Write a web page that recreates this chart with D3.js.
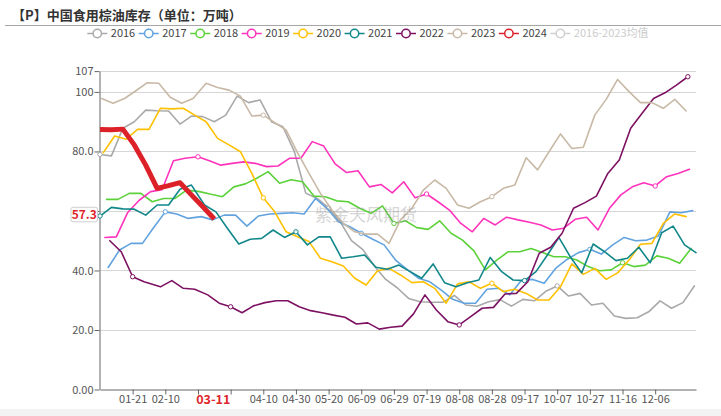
<!DOCTYPE html>
<html>
<head>
<meta charset="utf-8">
<script src="https://cdn.jsdelivr.net/npm/d3@7"></script>
<style>
  html, body { margin: 0; padding: 0; background: #fff; }
  svg { display: block; font-family: "Noto Sans CJK SC", "Noto Sans", sans-serif; }
</style>
</head>
<body>
<svg id="chart" width="721" height="416"></svg>
<script>
// ---------------- data ----------------
const title = "【P】中国食用棕油库存（单位：万吨）";
const watermark = "紫金天风期货";
const years = ["2016", "2017", "2018", "2019", "2020", "2021", "2022", "2023", "2024"];
const avgName = "2016-2023均值";
const colors = ["#a9a9a9", "#62a3df", "#5cd13a", "#ff33bb", "#ffc000", "#11878a", "#7d1162", "#c8b9a6", "#dc2128"];
const avgColor = "#cccccc";
// first observation date of each year (weekly data)
const startDates = ["2016-01-01", "2017-01-06", "2018-01-05", "2019-01-04", "2020-01-03",
                    "2021-01-01", "2022-01-07", "2023-01-02", "2024-01-01"];
// 2022 switched from Friday to Monday reporting
const restarts = { "2022": { index: 4, date: "2022-02-07" } };

const v2016 = [79.0, 78.5, 87.8, 90.0, 93.9, 93.7, 93.6, 89.2, 91.9, 91.7,
               90.0, 92.2, 98.6, 96.4, 97.3, 90.0, 88.3, 80.0, 66.0, 64.2,
               61.0, 56.5, 50.0, 47.0, 41.5, 37.0, 34.2, 30.6, 29.5, 29.3,
               29.3, 31.6, 28.4, 28.0, 29.5, 30.2, 28.0, 30.3, 29.8, 33.0,
               34.8, 31.4, 32.3, 28.4, 29.0, 24.7, 23.9, 24.1, 26.1, 29.8,
               27.3, 29.2, 34.8];
const v2017 = [41.0, 46.9, 49.1, 49.1, 54.5, 59.7, 59.0, 57.5, 58.1, 57.0,
               58.6, 58.6, 54.9, 58.3, 59.0, 59.2, 59.4, 59.0, 64.2, 60.9,
               56.4, 54.7, 52.5, 50.5, 48.6, 43.5, 40.4, 37.4, 36.2, 33.4,
               30.3, 29.0, 29.0, 33.7, 34.0, 31.8, 36.6, 37.0, 35.7, 40.7,
               43.7, 46.0, 47.1, 45.5, 48.6, 51.1, 50.0, 50.2, 51.6, 59.7,
               59.4, 60.1];
const v2018 = [63.9, 63.9, 65.9, 65.9, 63.1, 64.2, 64.2, 67.0, 66.5, 65.6,
               64.8, 68.1, 69.1, 71.0, 73.2, 69.3, 70.5, 69.8, 65.0, 64.8,
               63.4, 63.1, 60.9, 59.2, 61.7, 55.8, 56.7, 54.4, 53.8, 56.7,
               52.5, 50.2, 46.6, 40.2, 43.5, 46.3, 46.3, 47.4, 46.0, 44.6,
               44.6, 43.5, 41.3, 39.9, 40.2, 42.6, 41.3, 41.8, 44.9, 44.1,
               42.4, 47.4];
const v2019 = [51.1, 51.3, 59.5, 63.6, 66.5, 67.1, 76.9, 77.7, 78.2, 76.9,
               75.4, 76.0, 76.5, 76.0, 74.9, 75.1, 77.7, 77.7, 83.3, 81.8,
               75.8, 72.9, 73.5, 68.1, 68.9, 66.1, 69.8, 64.4, 65.7, 63.1,
               60.3, 55.8, 53.0, 57.5, 55.3, 57.9, 57.0, 56.2, 55.3, 53.6,
               54.2, 57.2, 57.9, 53.6, 60.9, 65.4, 68.1, 69.5, 68.4, 71.5,
               72.6, 74.0];
const v2020 = [79.6, 85.2, 84.1, 87.4, 87.4, 94.5, 94.3, 94.5, 92.2, 90.0,
               84.4, 82.2, 79.9, 72.6, 64.4, 59.7, 53.0, 51.3, 49.7, 44.1,
               42.9, 41.5, 37.4, 35.1, 39.9, 40.7, 38.5, 35.9, 36.2, 34.0,
               29.0, 35.5, 36.2, 34.0, 35.7, 32.9, 33.7, 32.3, 30.1, 30.1,
               34.5, 42.2, 38.7, 40.7, 37.0, 39.2, 43.5, 48.8, 49.1, 55.8,
               59.0, 58.1];
const v2021 = [58.3, 61.2, 60.7, 60.6, 58.6, 62.0, 62.0, 67.3, 68.7, 62.0,
               59.7, 54.2, 48.9, 50.5, 50.8, 53.6, 51.1, 53.0, 48.6, 51.3,
               51.3, 44.1, 44.6, 45.2, 41.1, 40.4, 41.8, 39.6, 37.4, 42.2,
               35.9, 34.5, 35.9, 36.8, 44.4, 39.6, 36.8, 36.6, 39.6, 45.2,
               51.1, 44.6, 39.2, 48.9, 46.3, 43.3, 44.1, 47.8, 42.6, 52.7,
               54.9, 48.6, 46.0];
const v2022 = [50.0, 46.3, 37.9, 36.2, 34.5, 36.6, 34.0, 33.7, 31.8, 29.0,
               27.8, 25.8, 28.1, 29.2, 29.8, 29.8, 27.8, 26.5, 25.8, 25.0,
               24.3, 22.0, 22.4, 20.3, 20.9, 21.3, 25.4, 31.8, 26.7, 22.8,
               21.7, 24.5, 27.3, 27.6, 32.1, 32.3, 36.2, 45.8, 47.8, 52.5,
               60.9, 62.8, 65.0, 72.6, 77.1, 87.8, 92.8, 97.8, 99.7, 102.3,
               105.1];
const v2023 = [97.8, 96.2, 97.8, 100.4, 103.1, 102.9, 98.2, 96.2, 97.8, 102.9,
               101.5, 100.6, 98.6, 91.9, 92.2, 89.7, 87.2, 79.5, 72.6, 65.9,
               60.3, 55.8, 53.0, 52.2, 52.2, 49.1, 57.0, 60.9, 67.0, 70.4,
               67.6, 62.0, 60.9, 63.1, 64.8, 67.6, 68.7, 77.9, 73.8, 79.9,
               85.9, 81.0, 81.4, 92.2, 97.5, 104.2, 100.1, 96.4, 96.4, 94.5,
               97.5, 93.6];
const v2024 = [87.4, 87.3, 87.5, 82.2, 75.4, 67.6, 68.5, 69.5, 65.4, 61.4, 57.3];
const seriesValues = [v2016, v2017, v2018, v2019, v2020, v2021, v2022, v2023, v2024];

const yTicks = [0, 20, 40, 60, 80, 100, 107];
const latest = { date: "03-11", value: 57.3 };

// ---------------- chart ----------------
const W = 721, H = 416;
const svg = d3.select("#chart");
const parse = d3.timeParse("%Y-%m-%d");
const fmt = d3.timeFormat("%m-%d");

// bottom strip
svg.append("rect").attr("x", 0).attr("y", 409).attr("width", W).attr("height", H - 409).attr("fill", "#f3f3f3");

// category axis: every day of a leap year
const cats = d3.timeDays(new Date(2024, 0, 1), new Date(2025, 0, 1)).map(fmt);
const x = d3.scalePoint().domain(cats).range([100, 696]);
const y = d3.scaleLinear().domain([0, 107]).range([389.5, 71.1]);
const tickEvery = 20;

// title
svg.append("text").attr("x", 12).attr("y", 20).text(title)
  .attr("font-size", 13).attr("font-weight", "bold").attr("fill", "#333");
svg.append("line").attr("x1", 5).attr("x2", W).attr("y1", 25.5).attr("y2", 25.5)
  .attr("stroke", "#a6a6a6").attr("stroke-width", 1);

// legend
const legendItems = years.map((n, i) => ({ name: n, color: colors[i], off: false }))
  .concat([{ name: avgName, color: avgColor, off: true }]);
const lg = svg.append("g");
legendItems.forEach((d, i) => {
  const lx = 87.3 + i * 51.45, ly = 33.5;
  const c = d.off ? "#d0d0d0" : d.color;
  lg.append("line").attr("x1", lx).attr("x2", lx + 20).attr("y1", ly).attr("y2", ly)
    .attr("stroke", c).attr("stroke-width", 1.5);
  lg.append("circle").attr("cx", lx + 10).attr("cy", ly).attr("r", 4.2)
    .attr("fill", "#fff").attr("stroke", c).attr("stroke-width", 1.5);
  lg.append("text").attr("x", lx + 23.5).attr("y", ly).attr("dy", "0.35em")
    .attr("font-size", 11).attr("fill", d.off ? "#cccccc" : "#444").text(d.name);
});

// grid lines
svg.append("g").selectAll("line").data(yTicks.filter(d => d > 0)).join("line")
  .attr("x1", 100).attr("x2", 696)
  .attr("y1", d => Math.round(y(d)) + 0.5).attr("y2", d => Math.round(y(d)) + 0.5)
  .attr("stroke", "#d6d6d6").attr("stroke-width", 1);

// labels covered by the latest-value highlight boxes
const lastIdx = cats.indexOf(latest.date);
const coveredCat = c => Math.abs(cats.indexOf(c) - lastIdx) < 12;
const coveredVal = v => Math.abs(v - latest.value) < 4;

// x axis
const xTickVals = cats.filter((c, i) => i % tickEvery === 0 && i > 0 && i < 360);
const gx = svg.append("g").attr("transform", "translate(0,389.5)")
  .call(d3.axisBottom(x).tickValues(xTickVals).tickSize(5).tickSizeOuter(0)
    .tickFormat(c => coveredCat(c) ? "" : c));
gx.select(".domain").attr("stroke", "#666");
gx.selectAll(".tick line").attr("stroke", "#666");
gx.selectAll(".tick text").attr("fill", "#555").attr("font-size", 11).attr("y", 6)
  .attr("font-family", "'Noto Sans CJK SC', 'Noto Sans', sans-serif");

// y axis
const yFmt = d => coveredVal(d) ? "" : (d === 0 ? "0.00" : (d >= 100 ? String(d) : d3.format(".1f")(d)));
const gy = svg.append("g").attr("transform", "translate(99.5,0)")
  .call(d3.axisLeft(y).tickValues(yTicks).tickFormat(yFmt).tickSize(5).tickSizeOuter(0));
gy.select(".domain").attr("stroke", "#666");
gy.selectAll(".tick line").attr("stroke", "#666");
gy.selectAll(".tick text").attr("fill", "#555").attr("font-size", 11).attr("x", -6)
  .attr("font-family", "'Noto Sans CJK SC', 'Noto Sans', sans-serif");

// series
const series = years.map((yr, si) => {
  const start = parse(startDates[si]);
  const rs = restarts[yr];
  const pts = seriesValues[si].map((v, i) => {
    const dt = (rs && i >= rs.index)
      ? d3.timeDay.offset(parse(rs.date), 7 * (i - rs.index))
      : d3.timeDay.offset(start, 7 * i);
    return { c: fmt(dt), v };
  });
  return { name: yr, color: colors[si], pts, current: si === years.length - 1 };
});

const line = d3.line().x(d => x(d.c)).y(d => y(d.v));
const gl = svg.append("g");
series.forEach(s => {
  gl.append("path").datum(s.pts).attr("d", line).attr("fill", "none")
    .attr("stroke", s.color).attr("stroke-width", s.current ? 5 : 1.6)
    .attr("stroke-linejoin", "round").attr("stroke-linecap", s.current ? "butt" : "round");
  if (!s.current) {
    gl.append("g").selectAll("circle")
      .data(s.pts.filter(p => cats.indexOf(p.c) % tickEvery === 0)).join("circle")
      .attr("cx", p => x(p.c)).attr("cy", p => y(p.v)).attr("r", 2.2)
      .attr("fill", "#fff").attr("stroke", s.color).attr("stroke-width", 1);
  }
});

// watermark
svg.append("text").attr("x", 366).attr("y", 215).attr("dy", "0.35em").attr("text-anchor", "middle")
  .attr("font-size", 17).attr("fill", "#9a9a9a").attr("opacity", 0.4).text(watermark);

// latest value label on y axis
const ly = y(latest.value) - 4.5;
svg.append("rect").attr("x", 71).attr("y", ly - 7.2).attr("width", 26.5).attr("height", 14.5).attr("rx", 2)
  .attr("fill", "#fff").attr("stroke", "#cfcfcf").attr("stroke-width", 1);
svg.append("text").attr("x", 84.2).attr("y", ly).attr("dy", "0.36em").attr("text-anchor", "middle")
  .attr("font-size", 12).attr("font-weight", "bold").attr("fill", "#e0262d").text(latest.value.toFixed(1));

// latest date label on x axis
const lx = x(latest.date);
svg.append("rect").attr("x", lx - 27).attr("y", 395).attr("width", 54).attr("height", 13.5).attr("fill", "#fff");
svg.append("text").attr("x", lx - 1).attr("y", 404).attr("text-anchor", "middle")
  .attr("font-size", 12.5).attr("font-weight", "bold").attr("fill", "#e0262d").text(latest.date);
</script>
</body>
</html>
